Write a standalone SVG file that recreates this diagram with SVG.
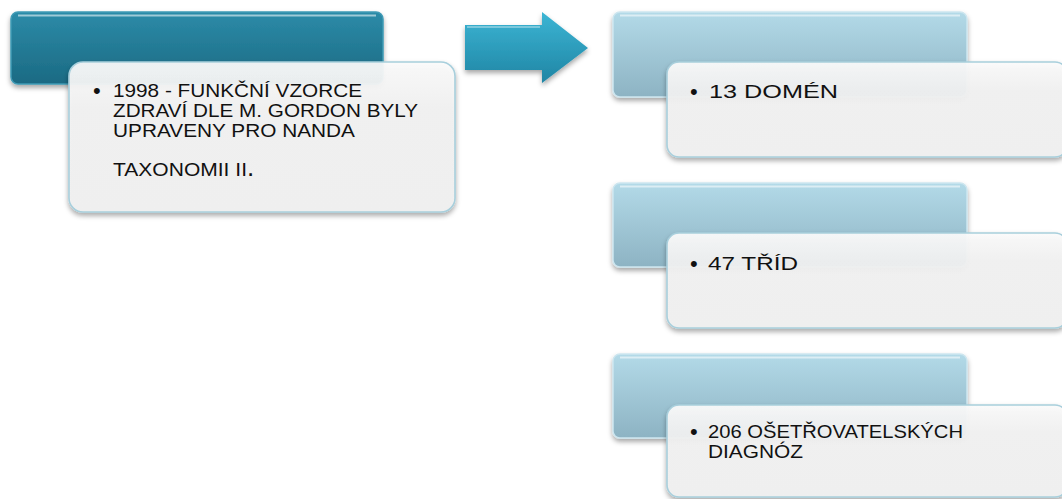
<svg xmlns="http://www.w3.org/2000/svg" width="1062" height="499" viewBox="0 0 1062 499">
<style>
.t{font-family:"Liberation Sans",Arial,sans-serif;font-size:17.8px;fill:#111}
.b{font-family:"Liberation Sans",Arial,sans-serif;font-size:22px;fill:#111}
.darkhd{fill:url(#gDark);stroke:#3f9ab5;stroke-width:1.5}
.lighthd{fill:url(#gLight);stroke:#cde6ef;stroke-width:1.5}
.card{fill:url(#gCard);fill-opacity:0.93;stroke:#a8cfdc;stroke-width:1.6}
.hl{fill:none;stroke:#ffffff;stroke-opacity:0.55;stroke-width:2}
</style>
<defs>
<linearGradient id="gDark" x1="0" y1="0" x2="0" y2="1">
<stop offset="0" stop-color="#2c8ba8"/>
<stop offset="1" stop-color="#1b6a83"/>
</linearGradient>
<linearGradient id="gLight" x1="0" y1="0" x2="0" y2="1">
<stop offset="0" stop-color="#b3dae8"/>
<stop offset="1" stop-color="#8db3c3"/>
</linearGradient>
<linearGradient id="gCard" x1="0" y1="0" x2="0" y2="1">
<stop offset="0" stop-color="#fbfbfb"/>
<stop offset="0.3" stop-color="#f2f2f2"/>
<stop offset="1" stop-color="#f1f1f1"/>
</linearGradient>
<linearGradient id="gArrow" x1="0" y1="0" x2="0" y2="1">
<stop offset="0" stop-color="#3cb5d4"/>
<stop offset="1" stop-color="#1f85a4"/>
</linearGradient>
<filter id="sh" x="-10%" y="-10%" width="125%" height="135%">
<feDropShadow dx="0" dy="3" stdDeviation="2.5" flood-color="#000" flood-opacity="0.35"/>
</filter>
</defs>

<g id="connectors">
<path d="M465,25 L542,25 L542,12 L588,48 L542,83 L542,70 L465,70 Z" fill="url(#gArrow)" filter="url(#sh)"/>
<path d="M467,27 H540" stroke="#ffffff" stroke-opacity="0.35" stroke-width="2" fill="none"/>
</g>

<g id="left-node">
<rect class="darkhd" x="11" y="12" width="372" height="72" rx="7" filter="url(#sh)"/>
<path class="hl" d="M18,15.5 H376"/>
<rect class="card" x="69" y="62" width="386" height="150" rx="14" filter="url(#sh)"/>
<text class="b" x="93" y="98">•</text>
<text class="t"><tspan x="113" y="97" textLength="249" lengthAdjust="spacingAndGlyphs">1998 - FUNKČNÍ VZORCE</tspan><tspan x="113" y="117" textLength="305" lengthAdjust="spacingAndGlyphs">ZDRAVÍ DLE M. GORDON BYLY</tspan><tspan x="113" y="137" textLength="242" lengthAdjust="spacingAndGlyphs">UPRAVENY PRO NANDA</tspan><tspan x="113" y="176" textLength="134" lengthAdjust="spacingAndGlyphs">TAXONOMII II</tspan><tspan font-size="26px">.</tspan></text>
</g>

<g id="node-domeny">
<rect class="lighthd" x="613" y="12" width="354" height="85" rx="7" filter="url(#sh)"/>
<path class="hl" d="M620,15.5 H960"/>
<rect class="card" x="667" y="62" width="400" height="95" rx="12" filter="url(#sh)"/>
<text class="b" x="690" y="99">•</text>
<text class="t" x="709" y="98" textLength="129" lengthAdjust="spacingAndGlyphs">13 DOMÉN</text>
</g>

<g id="node-tridy">
<rect class="lighthd" x="613" y="183" width="354" height="84" rx="7" filter="url(#sh)"/>
<path class="hl" d="M620,186.5 H960"/>
<rect class="card" x="667" y="233" width="400" height="95" rx="12" filter="url(#sh)"/>
<text class="b" x="690" y="271">•</text>
<text class="t" x="708" y="270" textLength="90" lengthAdjust="spacingAndGlyphs">47 TŘÍD</text>
</g>

<g id="node-diagnozy">
<rect class="lighthd" x="613" y="354" width="354" height="84" rx="7" filter="url(#sh)"/>
<path class="hl" d="M620,357.5 H960"/>
<rect class="card" x="667" y="405" width="400" height="92" rx="12" filter="url(#sh)"/>
<text class="b" x="690" y="439">•</text>
<text class="t"><tspan x="708" y="438" textLength="255" lengthAdjust="spacingAndGlyphs">206 OŠETŘOVATELSKÝCH</tspan><tspan x="708" y="458" textLength="95" lengthAdjust="spacingAndGlyphs">DIAGNÓZ</tspan></text>
</g>
</svg>
